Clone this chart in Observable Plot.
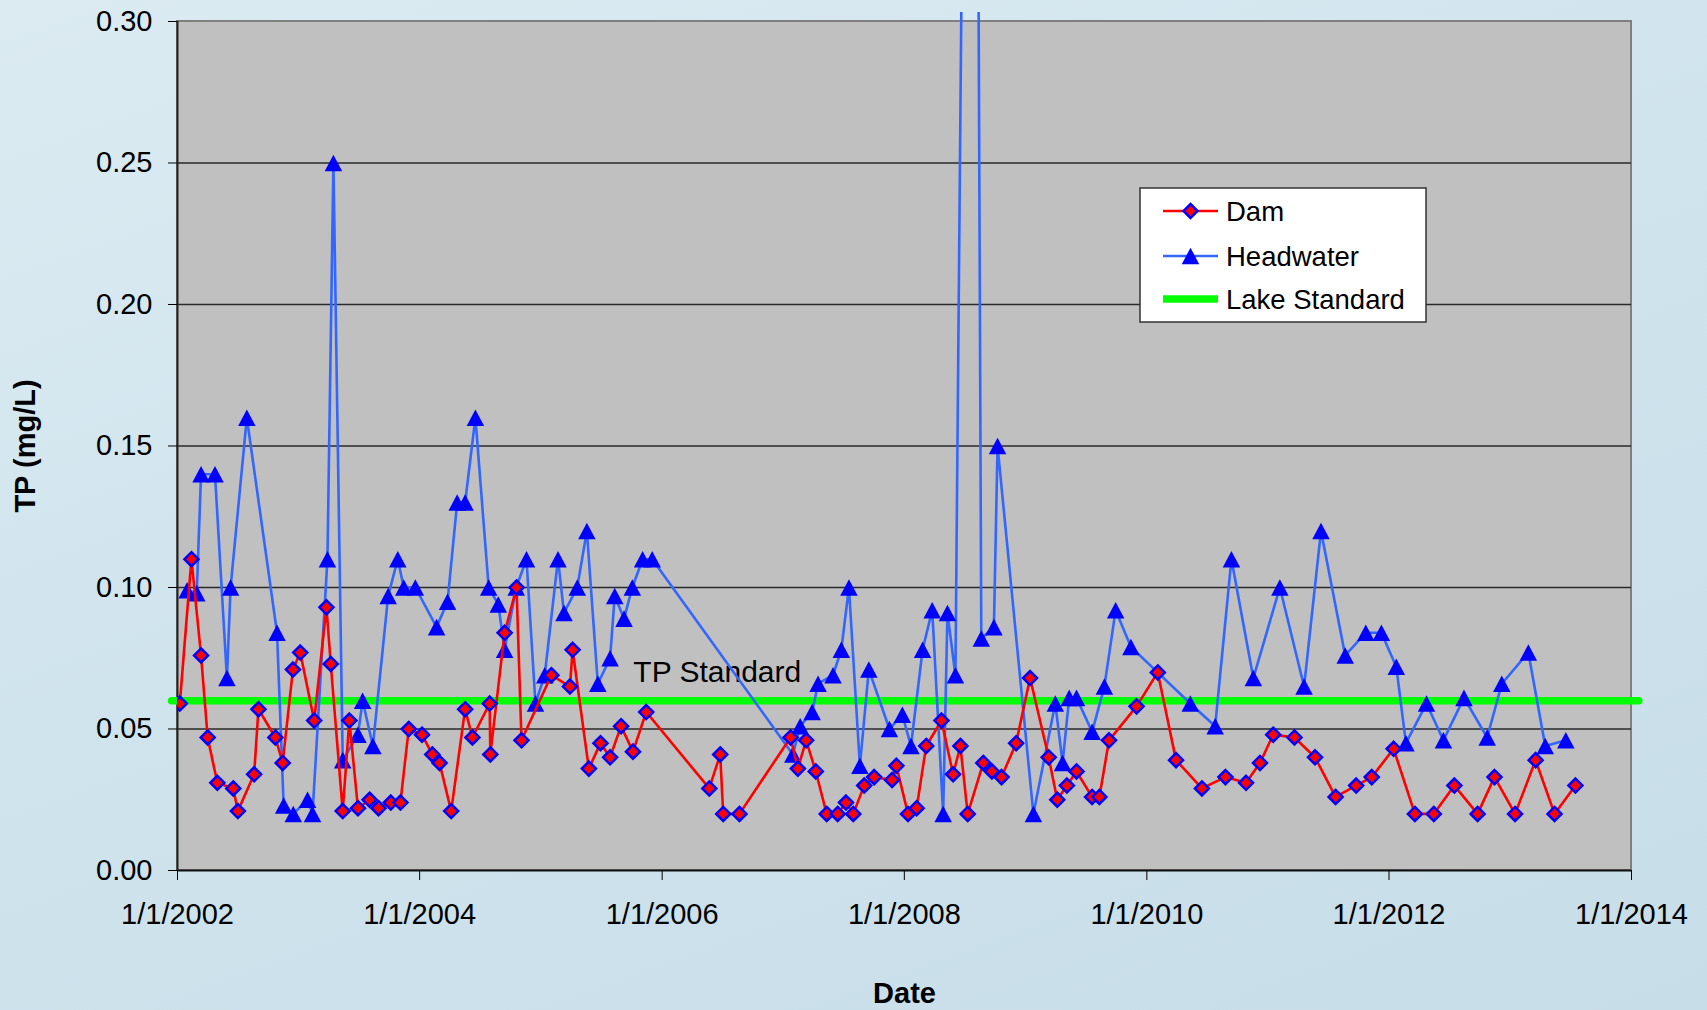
<!DOCTYPE html>
<html>
<head>
<meta charset="utf-8">
<script src="https://cdn.jsdelivr.net/npm/d3@7"></script>
<script src="https://cdn.jsdelivr.net/npm/@observablehq/plot@0.6"></script>
<style>
  html, body { margin: 0; padding: 0; }
  body {
    width: 1707px; height: 1010px; overflow: hidden;
    background: linear-gradient(160deg, #dcebf2 0%, #d0e4ed 45%, #c7dde8 100%);
    font-family: "Liberation Sans", Arial, sans-serif;
  }
  #wrap { position: relative; width: 1707px; height: 1010px; }
  #legend { position: absolute; left: 0; top: 0; }
</style>
</head>
<body>
<div id="wrap"></div>
<script>
// ---- Data ----
const damDates = ["2002-01-08","2002-02-12","2002-03-13","2002-04-02","2002-05-01","2002-06-18","2002-07-02","2002-08-20","2002-09-02","2002-10-23","2002-11-14","2002-12-15","2003-01-06","2003-02-17","2003-03-26","2003-04-08","2003-05-14","2003-06-03","2003-06-29","2003-08-03","2003-08-30","2003-10-06","2003-11-04","2003-11-29","2004-01-08","2004-02-08","2004-03-01","2004-04-05","2004-05-17","2004-06-08","2004-07-30","2004-08-01","2004-09-13","2004-10-19","2004-11-03","2005-02-01","2005-03-29","2005-04-06","2005-05-25","2005-06-29","2005-07-28","2005-08-30","2005-10-05","2005-11-14","2006-05-23","2006-06-25","2006-07-04","2006-08-22","2007-01-23","2007-02-14","2007-03-11","2007-04-09","2007-05-12","2007-06-14","2007-07-09","2007-07-31","2007-09-02","2007-10-02","2007-11-25","2007-12-08","2008-01-12","2008-02-07","2008-03-07","2008-04-22","2008-05-27","2008-06-18","2008-07-10","2008-08-26","2008-09-21","2008-10-20","2008-12-03","2009-01-14","2009-03-11","2009-04-06","2009-05-05","2009-06-03","2009-07-20","2009-08-11","2009-09-09","2009-12-01","2010-02-03","2010-03-30","2010-06-16","2010-08-26","2010-10-27","2010-12-08","2011-01-17","2011-03-22","2011-05-23","2011-07-24","2011-09-24","2011-11-10","2012-01-15","2012-03-19","2012-05-15","2012-07-16","2012-09-24","2012-11-14","2013-01-15","2013-03-18","2013-05-14","2013-07-16"];
const damValues = [0.059,0.110,0.076,0.047,0.031,0.029,0.021,0.034,0.057,0.047,0.038,0.071,0.077,0.053,0.093,0.073,0.021,0.053,0.022,0.025,0.022,0.024,0.024,0.050,0.048,0.041,0.038,0.021,0.057,0.047,0.059,0.041,0.084,0.100,0.046,0.069,0.065,0.078,0.036,0.045,0.040,0.051,0.042,0.056,0.029,0.041,0.020,0.020,0.047,0.036,0.046,0.035,0.020,0.020,0.024,0.020,0.030,0.033,0.032,0.037,0.020,0.022,0.044,0.053,0.034,0.044,0.020,0.038,0.035,0.033,0.045,0.068,0.040,0.025,0.030,0.035,0.026,0.026,0.046,0.058,0.070,0.039,0.029,0.033,0.031,0.038,0.048,0.047,0.040,0.026,0.030,0.033,0.043,0.020,0.020,0.030,0.020,0.033,0.020,0.039,0.020,0.030];

const headDates = ["2002-01-30","2002-02-28","2002-03-13","2002-04-24","2002-05-30","2002-06-10","2002-07-29","2002-10-28","2002-11-17","2002-12-16","2003-01-28","2003-02-12","2003-03-29","2003-04-16","2003-05-14","2003-06-29","2003-07-13","2003-08-13","2003-09-28","2003-10-27","2003-11-14","2003-12-19","2004-02-21","2004-03-25","2004-04-23","2004-05-17","2004-06-17","2004-07-27","2004-08-25","2004-09-13","2004-10-18","2004-11-18","2004-12-15","2005-01-12","2005-02-21","2005-03-11","2005-04-20","2005-05-19","2005-06-21","2005-07-28","2005-08-11","2005-09-08","2005-10-03","2005-11-03","2005-12-02","2007-01-30","2007-02-21","2007-03-29","2007-04-16","2007-05-31","2007-06-25","2007-07-18","2007-08-20","2007-09-16","2007-11-17","2007-12-26","2008-01-21","2008-02-25","2008-03-25","2008-04-27","2008-05-10","2008-06-03","2008-07-26","2008-08-20","2008-09-27","2008-10-08","2009-01-24","2009-03-31","2009-04-22","2009-05-12","2009-06-03","2009-07-20","2009-08-26","2009-09-29","2009-11-14","2010-05-12","2010-07-26","2010-09-13","2010-11-18","2011-02-06","2011-04-20","2011-06-10","2011-08-22","2011-10-23","2011-12-09","2012-01-23","2012-02-21","2012-04-23","2012-06-13","2012-08-14","2012-10-23","2012-12-06","2013-02-24","2013-04-16","2013-06-17"];
const headValues = [0.099,0.098,0.140,0.140,0.068,0.100,0.160,0.084,0.023,0.020,0.025,0.020,0.110,0.250,0.039,0.048,0.060,0.044,0.097,0.110,0.100,0.100,0.086,0.095,0.130,0.130,0.160,0.100,0.094,0.078,0.100,0.110,0.059,0.069,0.110,0.091,0.100,0.120,0.066,0.075,0.097,0.089,0.100,0.110,0.110,0.041,0.051,0.056,0.066,0.069,0.078,0.100,0.037,0.071,0.050,0.055,0.044,0.078,0.092,0.020,0.091,0.069,0.77,0.082,0.086,0.150,0.020,0.059,0.038,0.061,0.061,0.049,0.065,0.092,0.079,0.059,0.051,0.110,0.068,0.100,0.065,0.120,0.076,0.084,0.084,0.072,0.045,0.059,0.046,0.061,0.047,0.066,0.077,0.044,0.046];

const standardDates = ["2001-12-14","2014-01-23"];
const standardValue = 0.06;
const standardLabel = "TP Standard";
const standardLabelAt = {date: "2005-10-06", value: 0.0665};

const seriesNames = ["Dam", "Headwater", "Lake Standard"];
const xTickDates = ["2002-01-01","2004-01-01","2006-01-01","2008-01-01","2010-01-01","2012-01-01","2014-01-01"];
const yTicks = [0, 0.05, 0.10, 0.15, 0.20, 0.25, 0.30];
const xTitle = "Date";
const yTitle = "TP (mg/L)";

// ---- Build tables ----
const parse = d3.utcParse("%Y-%m-%d");
const dam = damDates.map((d, i) => ({date: parse(d), value: damValues[i]}));
const head = headDates.map((d, i) => ({date: parse(d), value: headValues[i]}));
const standard = standardDates.map(d => ({date: parse(d), value: standardValue}));
const xTicks = xTickDates.map(parse);
const xDomain = [xTicks[0], xTicks[xTicks.length - 1]];
const yTop = yTicks[yTicks.length - 1];
const plotBg = [{x1: xDomain[0], x2: xDomain[1], y1: yTicks[0], y2: yTop}];

// Excel-like marker shapes
const diamond = {draw(ctx, size) {
  const r = Math.sqrt(size / Math.PI);
  ctx.moveTo(0, -r); ctx.lineTo(r, 0); ctx.lineTo(0, r); ctx.lineTo(-r, 0); ctx.closePath();
}};
const triangle = {draw(ctx, size) {
  const r = Math.sqrt(size / Math.PI);
  const hw = r * 1.25, hh = r * 1.18;
  ctx.moveTo(0, -hh); ctx.lineTo(hw, hh); ctx.lineTo(-hw, hh); ctx.closePath();
}};

const FONT = "'Liberation Sans', Arial, sans-serif";

const chart = Plot.plot({
  width: 1707,
  height: 1010,
  marginLeft: 177,
  marginRight: 76,
  marginTop: 12,
  marginBottom: 140,
  style: {background: "transparent", fontFamily: FONT, fontSize: "29px", color: "black", overflow: "visible"},
  x: {type: "utc", domain: xDomain},
  y: {domain: [0, yTop * 1.0106]},
  marks: [
    Plot.rect(plotBg, {x1: "x1", x2: "x2", y1: "y1", y2: "y2", fill: "#c0c0c0", stroke: "#7f7f7f", strokeWidth: 2}),
    Plot.ruleY(yTicks.slice(1, -1), {stroke: "#2a2a2a", strokeWidth: 1.4}),
    Plot.ruleX([xDomain[0]], {y1: 0, y2: yTop, stroke: "#222", strokeWidth: 2}),
    Plot.ruleY([0], {x1: xDomain[0], x2: xDomain[1], stroke: "#111", strokeWidth: 2}),
    Plot.axisX({ticks: xTicks, tickFormat: d3.utcFormat("%-m/%-d/%Y"), tickSize: 10, tickPadding: 23, label: null, fontSize: 29}),
    Plot.axisY({ticks: yTicks, tickFormat: d3.format(".2f"), tickSize: 9, tickPadding: 16, label: null, fontSize: 29}),
    Plot.line(standard, {x: "date", y: "value", stroke: "#00ff00", strokeWidth: 7.5}),
    Plot.text([standardLabel], {x: () => parse(standardLabelAt.date), y: () => standardLabelAt.value, text: d => d, textAnchor: "start", lineAnchor: "bottom", fontSize: 30, fill: "black"}),
    Plot.line(head, {x: "date", y: "value", stroke: "#3366ff", strokeWidth: 2.6, clip: true}),
    Plot.dot(head, {x: "date", y: "value", symbol: triangle, r: 7, fill: "#0000ff", stroke: "none", clip: true}),
    Plot.line(dam, {x: "date", y: "value", stroke: "#ff0000", strokeWidth: 2.6, clip: true}),
    Plot.dot(dam, {x: "date", y: "value", symbol: diamond, r: 7, fill: "#ff0000", stroke: "#0000ff", strokeWidth: 2.5, clip: true}),
    Plot.text([yTitle], {frameAnchor: "left", dx: -152, dy: 4.5, rotate: -90, textAnchor: "middle", lineAnchor: "middle", text: d => d, fontWeight: "bold", fontSize: 29, fill: "black"}),
    Plot.text([xTitle], {frameAnchor: "bottom", dy: 123, textAnchor: "middle", lineAnchor: "middle", text: d => d, fontWeight: "bold", fontSize: 29, fill: "black"})
  ]
});
document.getElementById("wrap").appendChild(chart);

// ---- Legend (boxed, inside the plot area like the original) ----
const ns = "http://www.w3.org/2000/svg";
const leg = document.createElementNS(ns, "svg");
leg.setAttribute("id", "legend");
leg.setAttribute("width", 1707);
leg.setAttribute("height", 1010);
leg.style.pointerEvents = "none";
const L = {x: 1140, y: 188, w: 286, h: 134};
const rowsY = [211, 256, 299];
let html = `<rect x="${L.x}" y="${L.y}" width="${L.w}" height="${L.h}" fill="white" stroke="#333" stroke-width="1.5"/>`;
const sx1 = 1163, sx2 = 1218, cx = (sx1 + sx2) / 2, tx = 1226;
// Dam
html += `<line x1="${sx1}" x2="${sx2}" y1="${rowsY[0]}" y2="${rowsY[0]}" stroke="#ff0000" stroke-width="2.6"/>`;
html += `<path d="M${cx},${rowsY[0]-7}L${cx+7},${rowsY[0]}L${cx},${rowsY[0]+7}L${cx-7},${rowsY[0]}Z" fill="#ff0000" stroke="#0000ff" stroke-width="2.5"/>`;
// Headwater
html += `<line x1="${sx1}" x2="${sx2}" y1="${rowsY[1]}" y2="${rowsY[1]}" stroke="#3366ff" stroke-width="2.6"/>`;
html += `<path d="M${cx},${rowsY[1]-8.3}L${cx+8.75},${rowsY[1]+8.3}L${cx-8.75},${rowsY[1]+8.3}Z" fill="#0000ff"/>`;
// Lake Standard
html += `<line x1="${sx1}" x2="${sx2}" y1="${rowsY[2]}" y2="${rowsY[2]}" stroke="#00ff00" stroke-width="7.5"/>`;
seriesNames.forEach((n, i) => {
  html += `<text x="${tx}" y="${rowsY[i]}" dy="0.36em" font-family="${FONT.replace(/'/g, '&quot;')}" font-size="27.5" fill="black">${n}</text>`;
});
leg.innerHTML = html;
document.getElementById("wrap").appendChild(leg);
</script>
</body>
</html>
